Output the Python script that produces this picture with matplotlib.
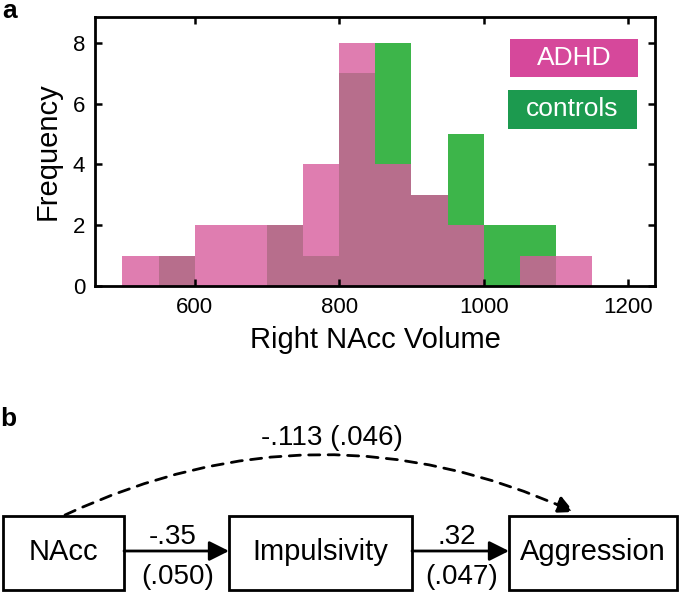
import numpy as np
import matplotlib
matplotlib.use("Agg")
import matplotlib.pyplot as plt
from matplotlib.patches import Rectangle, FancyArrowPatch

plt.rcParams["font.family"] = ["Liberation Sans", "DejaVu Sans"]

# histogram data (bin width 50)
bin_edges = np.arange(500, 1151, 50)
adhd_counts = [1, 1, 2, 2, 2, 4, 8, 4, 3, 2, 0, 1, 1]
control_counts = [0, 1, 0, 0, 2, 1, 7, 8, 3, 5, 2, 2, 0]

x_ticks = [600, 800, 1000, 1200]
y_ticks = [0, 2, 4, 6, 8]

# mediation diagram
nodes = ["NAcc", "Impulsivity", "Aggression"]
path_coef = ["-.35", ".32"]
path_se = ["(.050)", "(.047)"]
direct_label = "-.113 (.046)"

PINK = "#d75d9d"
GREEN = "#3db54a"
PINK_BOX = "#d6489b"
GREEN_BOX = "#1c9a4f"

W, H = 679, 595
fig = plt.figure(figsize=(W / 100, H / 100), dpi=100)

# --- panel a ---
ax = fig.add_axes([95 / W, 1 - 286 / H, (655 - 95) / W, (286 - 17) / H])
left = bin_edges[:-1]
ax.bar(left, control_counts, width=50, align="edge", color=GREEN, linewidth=0)
ax.bar(left, adhd_counts, width=50, align="edge", color=PINK, alpha=0.8,
       linewidth=0)
ax.set_xlim(462, 1237)
ax.set_ylim(0, 8.85)
ax.set_xticks(x_ticks)
ax.set_yticks(y_ticks)
ax.tick_params(direction="in", length=5, width=1.8, top=True, right=True,
               labelsize=16)
ax.tick_params(axis="x", pad=8)
ax.tick_params(axis="y", pad=7)
for s in ax.spines.values():
    s.set_linewidth(2.0)
ax.set_xlabel("Right NAcc Volume", fontsize=21, labelpad=6)
ax.set_ylabel("Frequency", fontsize=21, labelpad=8)

# legend boxes
for (bx0, by0, bw, bh), label, col in [
        ((0.741, 0.777, 0.229, 0.141), "ADHD", PINK_BOX),
        ((0.7375, 0.584, 0.2305, 0.145), "controls", GREEN_BOX)]:
    ax.add_patch(Rectangle((bx0, by0), bw, bh, transform=ax.transAxes,
                           fc=col, ec="none", zorder=5))
    ax.text(bx0 + bw / 2, by0 + bh / 2, label, transform=ax.transAxes,
            ha="center", va="center", fontsize=19, color="white", zorder=6)

fig.text(2 / W, 1 - 11 / H, "a", fontsize=19, fontweight="bold", va="center")
fig.text(0 / W, 1 - 419 / H, "b", fontsize=19, fontweight="bold", va="center")

# --- panel b ---
bx = fig.add_axes([0, 0, 1, 1], zorder=-1)
bx.set_xlim(0, W)
bx.set_ylim(H, 0)
bx.axis("off")

boxes = [(3, 124), (229, 412), (509, 677)]
y0, y1 = 516, 590
for (xa, xb), name in zip(boxes, nodes):
    bx.add_patch(Rectangle((xa, y0), xb - xa, y1 - y0, fill=False,
                           ec="black", lw=2.0))
    bx.text((xa + xb) / 2, (y0 + y1) / 2 - 1, name, ha="center", va="center",
            fontsize=21)

ym = 551
for i in range(2):
    xs, xe = boxes[i][1], boxes[i + 1][0]
    bx.add_patch(FancyArrowPatch((xs, ym), (xe, ym), arrowstyle="-|>",
                                 mutation_scale=30, lw=2.0, color="black",
                                 shrinkA=0, shrinkB=0))
    xc = (xs + xe) / 2 - 4
    bx.text(xc, 537, path_coef[i], ha="center", va="center", fontsize=20)
    bx.text(xc + 5, 577, path_se[i], ha="center", va="center", fontsize=20)

bx.add_patch(FancyArrowPatch((65, 515), (574, 512),
                             connectionstyle="arc3,rad=-0.23",
                             arrowstyle="-|>", mutation_scale=26, lw=2.0,
                             linestyle=(0, (4, 3)), color="black",
                             shrinkA=0, shrinkB=0))
bx.text(332, 438, direct_label, ha="center", va="center", fontsize=20)

fig.savefig("out.png", dpi=100)
